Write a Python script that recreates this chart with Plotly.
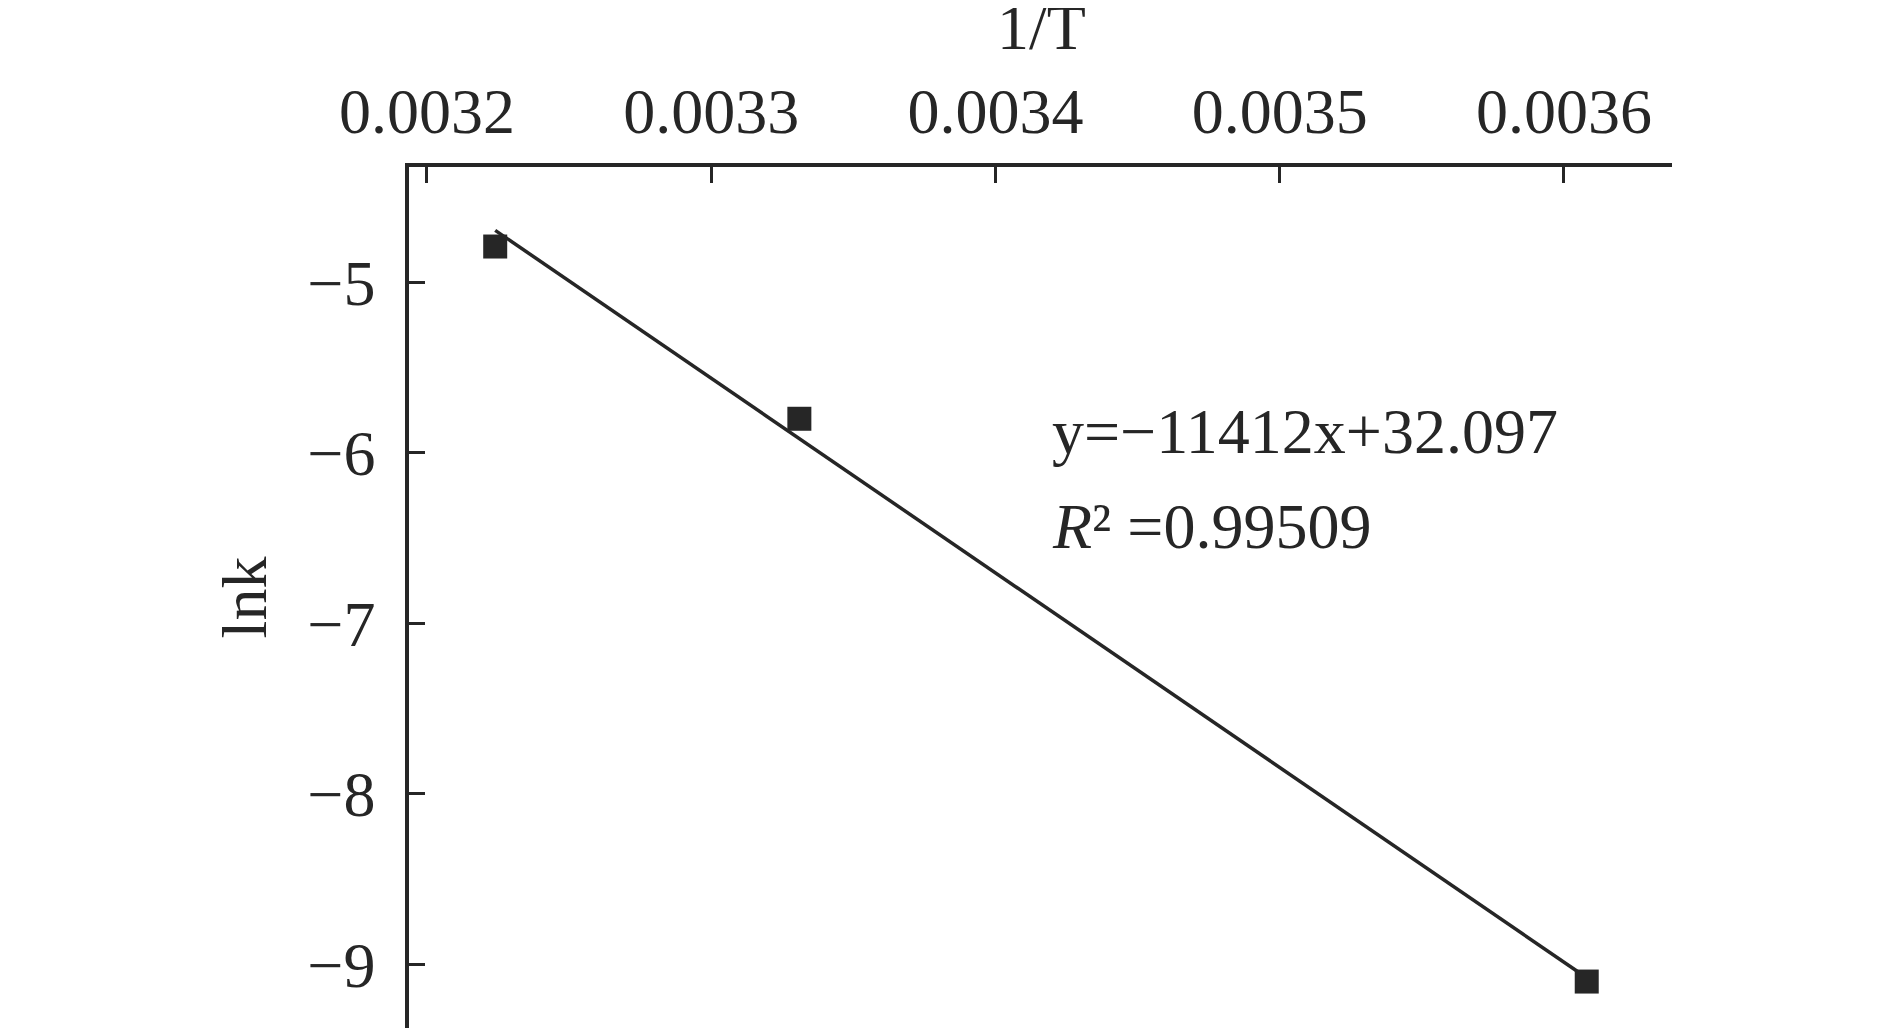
import plotly.graph_objects as go

# measured points: 1/T (K^-1) vs ln k
inv_T = [0.003224, 0.003331, 0.003608]
ln_k = [-4.79, -5.80, -9.10]

# fitted line as printed on the chart
fit_slope = -11412
fit_intercept = 32.097
fit_r2 = 0.99509

x_ticks = [0.0032, 0.0033, 0.0034, 0.0035, 0.0036]
x_ticklabels = ["0.0032", "0.0033", "0.0034", "0.0035", "0.0036"]
y_ticks = [-5, -6, -7, -8, -9]

INK = "#262626"
FONT = "Liberation Serif"

fit_x = [inv_T[0], inv_T[-1]]
fit_y = [fit_slope * v + fit_intercept for v in fit_x]

fig = go.Figure()
fig.add_trace(go.Scatter(
    x=fit_x, y=fit_y, mode="lines",
    line=dict(color=INK, width=3.5),
    showlegend=False, hoverinfo="skip",
))
fig.add_trace(go.Scatter(
    x=inv_T, y=ln_k, mode="markers",
    marker=dict(symbol="square", size=24, color=INK),
    showlegend=False,
))

# the page body adds 8px around the plot, margins allow for it
fig.update_layout(
    width=1890, height=1034,
    margin=dict(l=401, r=226, t=159, b=14, autoexpand=False),
    plot_bgcolor="white", paper_bgcolor="white",
    font=dict(family=FONT, size=64, color=INK),
    xaxis=dict(
        side="top",
        range=[0.00319367, 0.003638],
        tickvals=x_ticks, ticktext=x_ticklabels,
        ticks="inside", ticklen=16, tickwidth=3, tickcolor=INK,
        showline=True, linewidth=3.5, linecolor=INK,
        showgrid=False, zeroline=False,
        ticklabelstandoff=5,
    ),
    yaxis=dict(
        range=[-9.3724, -4.3237],
        tickvals=y_ticks,
        ticks="inside", ticklen=16, tickwidth=3, tickcolor=INK,
        showline=True, linewidth=3.5, linecolor=INK,
        showgrid=False, zeroline=False,
        ticklabelstandoff=17,
        title=dict(text="lnk", standoff=21, font=dict(size=64)),
    ),
    annotations=[
        # x title as annotation: axis titles get squeezed by the fixed top margin
        dict(
            xref="paper", yref="paper", x=0.5008, y=1.1626,
            xanchor="center", yanchor="middle", showarrow=False,
            text="1/T",
            font=dict(family=FONT, size=64, color=INK),
        ),
        dict(
            xref="paper", yref="paper", x=0.5075, y=0.6928,
            xanchor="left", yanchor="middle", showarrow=False,
            text="y=\u221211412x+32.097",
            font=dict(family=FONT, size=64, color=INK),
        ),
        dict(
            xref="paper", yref="paper", x=0.5075, y=0.583,
            xanchor="left", yanchor="middle", showarrow=False,
            text=f"<i>R</i>\u00b2 ={fit_r2:.5f}",
            font=dict(family=FONT, size=64, color=INK),
        ),
    ],
)

fig.write_html("out.html")
